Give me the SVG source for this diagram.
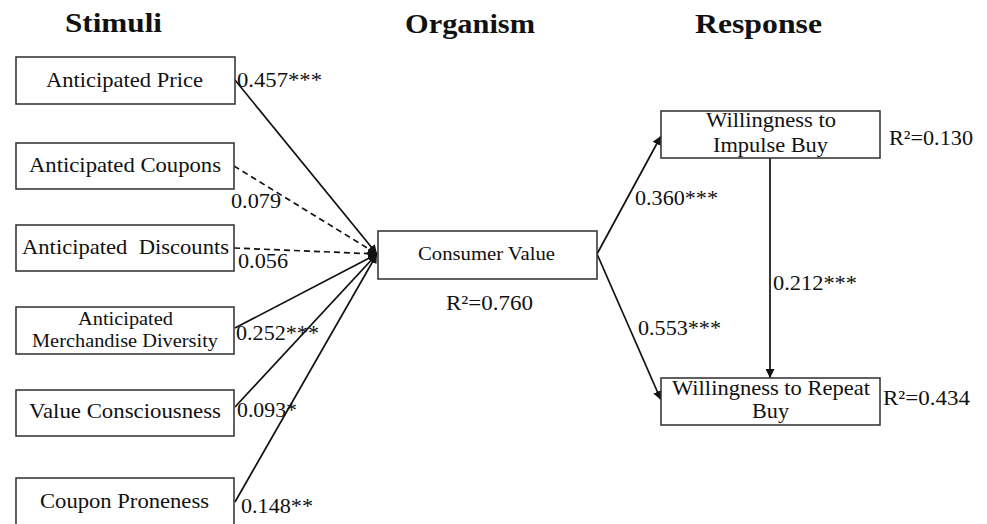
<svg xmlns="http://www.w3.org/2000/svg" width="987" height="524" viewBox="0 0 987 524">
<defs>
<style>
.box{fill:#fff;stroke:#3a3a3a;stroke-width:1.6}
text{font-family:"Liberation Serif","Times New Roman",serif;fill:#111}
.t{font-size:21px;text-anchor:start}
.h{font-size:28px;font-weight:bold}
.l{font-size:21px}
.ln{stroke:#111;stroke-width:1.7;fill:none}
.d{stroke-dasharray:6,4}
</style>
<marker id="ah" viewBox="0 0 10 10" refX="10" refY="5" markerWidth="9" markerHeight="9" markerUnits="userSpaceOnUse" orient="auto">
<path d="M0,0 L10,5 L0,10 z" fill="#111"/>
</marker>
</defs>
<rect width="987" height="524" fill="#fff"/>
<g id="titles">
<text class="h" x="65" y="32" textLength="97" lengthAdjust="spacingAndGlyphs">Stimuli</text>
<text class="h" x="405" y="33" textLength="130" lengthAdjust="spacingAndGlyphs">Organism</text>
<text class="h" x="695" y="33" textLength="127" lengthAdjust="spacingAndGlyphs">Response</text>
</g>
<g id="connectors">
<line class="ln" x1="235" y1="80" x2="377" y2="254" marker-end="url(#ah)"/>
<line class="ln d" x1="234" y1="166" x2="377" y2="254" marker-end="url(#ah)"/>
<line class="ln d" x1="234" y1="248" x2="377" y2="254" marker-end="url(#ah)"/>
<line class="ln" x1="235" y1="328" x2="377" y2="254" marker-end="url(#ah)"/>
<line class="ln" x1="235" y1="407" x2="377" y2="254" marker-end="url(#ah)"/>
<line class="ln" x1="235" y1="502" x2="377" y2="254" marker-end="url(#ah)"/>
<line class="ln" x1="597" y1="254" x2="661" y2="136" marker-end="url(#ah)"/>
<line class="ln" x1="597" y1="254" x2="661" y2="400" marker-end="url(#ah)"/>
<line class="ln" x1="770" y1="158" x2="770" y2="378" marker-end="url(#ah)"/>
</g>
<g id="labels">
<text class="l" x="237" y="87" textLength="85" lengthAdjust="spacingAndGlyphs">0.457***</text>
<text class="l" x="231" y="208" textLength="50" lengthAdjust="spacingAndGlyphs">0.079</text>
<text class="l" x="238" y="268" textLength="50" lengthAdjust="spacingAndGlyphs">0.056</text>
<text class="l" x="236" y="340" textLength="83" lengthAdjust="spacingAndGlyphs">0.252***</text>
<text class="l" x="237" y="417" textLength="60" lengthAdjust="spacingAndGlyphs">0.093*</text>
<text class="l" x="241" y="513" textLength="72" lengthAdjust="spacingAndGlyphs">0.148**</text>
<text class="l" x="635" y="205" textLength="83" lengthAdjust="spacingAndGlyphs">0.360***</text>
<text class="l" x="638" y="335" textLength="83" lengthAdjust="spacingAndGlyphs">0.553***</text>
<text class="l" x="773" y="290" textLength="84" lengthAdjust="spacingAndGlyphs">0.212***</text>
</g>
<g id="n-price">
<rect class="box" x="16" y="57" width="219" height="47"/>
<text class="t" x="46" y="87" textLength="157" lengthAdjust="spacingAndGlyphs">Anticipated Price</text>
</g>
<g id="n-coupons">
<rect class="box" x="16" y="143" width="218" height="46"/>
<text class="t" x="29" y="172" textLength="192" lengthAdjust="spacingAndGlyphs">Anticipated Coupons</text>
</g>
<g id="n-discounts">
<rect class="box" x="16" y="225" width="218" height="46"/>
<text class="t" x="22" y="254" textLength="207" lengthAdjust="spacingAndGlyphs" xml:space="preserve">Anticipated  Discounts</text>
</g>
<g id="n-merch">
<rect class="box" x="16" y="307" width="218" height="47"/>
<text class="t" x="78" y="325" textLength="95" lengthAdjust="spacingAndGlyphs" style="font-size:19px">Anticipated</text>
<text class="t" x="32" y="347" textLength="186" lengthAdjust="spacingAndGlyphs" style="font-size:19px">Merchandise Diversity</text>
</g>
<g id="n-value">
<rect class="box" x="16" y="390" width="218" height="46"/>
<text class="t" x="29" y="418" textLength="192" lengthAdjust="spacingAndGlyphs">Value Consciousness</text>
</g>
<g id="n-proneness">
<rect class="box" x="16" y="478" width="218" height="60"/>
<text class="t" x="40" y="508" textLength="169" lengthAdjust="spacingAndGlyphs">Coupon Proneness</text>
</g>
<g id="n-consumer">
<rect class="box" x="378" y="231" width="219" height="48"/>
<text class="t" x="418" y="260" textLength="137" lengthAdjust="spacingAndGlyphs" style="font-size:19px">Consumer Value</text>
<text class="t" x="446" y="310" textLength="87" lengthAdjust="spacingAndGlyphs">R²=0.760</text>
</g>
<g id="n-impulse">
<rect class="box" x="661" y="111" width="219" height="47"/>
<text class="t" x="706" y="127" textLength="130" lengthAdjust="spacingAndGlyphs">Willingness to</text>
<text class="t" x="713" y="152" textLength="115" lengthAdjust="spacingAndGlyphs">Impulse Buy</text>
<text class="t" x="889" y="145" textLength="84" lengthAdjust="spacingAndGlyphs">R²=0.130</text>
</g>
<g id="n-repeat">
<rect class="box" x="661" y="378" width="219" height="47"/>
<text class="t" x="672" y="395" textLength="198" lengthAdjust="spacingAndGlyphs">Willingness to Repeat</text>
<text class="t" x="752" y="418" textLength="37" lengthAdjust="spacingAndGlyphs">Buy</text>
<text class="t" x="883" y="405" textLength="87" lengthAdjust="spacingAndGlyphs">R²=0.434</text>
</g>
</svg>
